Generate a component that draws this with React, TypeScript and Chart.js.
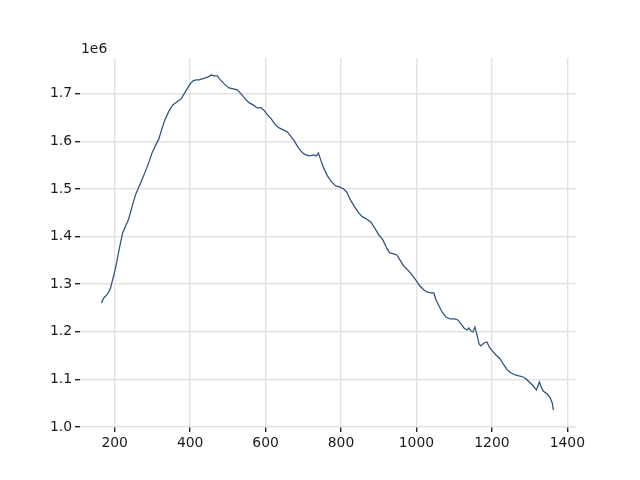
import React, { useEffect, useRef } from "react";
import { Chart, registerables } from "chart.js";

Chart.register(...registerables);

const xValues: number[] = [
  165, 171, 179, 184, 189, 195, 203, 211, 221, 229, 237, 248, 256, 264, 272, 283, 291, 299, 309, 317,
  325, 333, 344, 354, 365, 376, 384, 392, 400, 408, 416, 424, 432, 440, 448, 456, 464, 472, 480, 488,
  496, 503, 514, 525, 535, 546, 557, 567, 578, 589, 597, 605, 615, 626, 636, 647, 658, 666, 676, 687,
  698, 706, 716, 727, 735, 740, 746, 754, 764, 775, 786, 796, 807, 815, 825, 836, 847, 857, 868, 879,
  889, 900, 911, 921, 929, 940, 948, 956, 966, 977, 988, 998, 1009, 1020, 1028, 1038, 1046, 1052, 1060, 1068,
  1078, 1089, 1100, 1110, 1118, 1126, 1134, 1139, 1145, 1150, 1155, 1161, 1166, 1171, 1179, 1187, 1193, 1201, 1211, 1222,
  1230, 1241, 1251, 1262, 1272, 1283, 1291, 1299, 1310, 1318, 1323, 1326, 1331, 1336, 1347, 1355, 1360, 1363,
];

const yValues: number[] = [
  1260500, 1271000, 1277300, 1283600, 1292000, 1310900, 1336200, 1369800, 1407600, 1422300,
  1437000, 1468500, 1489500, 1504200, 1518900, 1540000, 1556800, 1575700, 1592500, 1605100,
  1626100, 1645000, 1663900, 1676500, 1682800, 1689100, 1699600, 1710100, 1720600, 1726900,
  1729000, 1729000, 1731100, 1733200, 1735400, 1739600, 1737500, 1737500, 1729000, 1722700,
  1716400, 1712200, 1710100, 1708000, 1699600, 1689100, 1680700, 1676500, 1670200, 1670200,
  1663900, 1655500, 1647100, 1634500, 1628200, 1624000, 1619800, 1611400, 1600900, 1586200,
  1575700, 1571500, 1569400, 1571500, 1569400, 1575700, 1561000, 1544200, 1527400, 1514700,
  1506300, 1504200, 1500000, 1493700, 1476900, 1462200, 1449600, 1441200, 1437000, 1430700,
  1418100, 1403400, 1392900, 1376100, 1365600, 1363500, 1361400, 1350900, 1338300, 1329900,
  1319400, 1308800, 1296200, 1287800, 1283600, 1281500, 1281500, 1266800, 1254200, 1241600,
  1231100, 1226900, 1226900, 1224800, 1216400, 1208000, 1203800, 1208000, 1201700, 1199600,
  1210100, 1191200, 1174400, 1170200, 1176500, 1178600, 1168100, 1159700, 1151300, 1142900,
  1132400, 1119800, 1113500, 1109300, 1107200, 1105100, 1100800, 1094500, 1086100, 1077700,
  1088200, 1094500, 1084000, 1075600, 1069300, 1060900, 1050400, 1035700,
];

const xTicks: number[] = [200, 400, 600, 800, 1000, 1200, 1400];
const yTicks: number[] = [1000000, 1100000, 1200000, 1300000, 1400000, 1500000, 1600000, 1700000];
const yTickLabels: string[] = ["1.0", "1.1", "1.2", "1.3", "1.4", "1.5", "1.6", "1.7"];
const offsetLabel = "1e6";

const FONT = "'DejaVu Sans', sans-serif";

export default function App() {
  const ref = useRef<HTMLCanvasElement | null>(null);

  useEffect(() => {
    document.body.style.margin = "0";
    const canvas = ref.current;
    if (!canvas) return;

    const offsetPlugin = {
      id: "offsetText",
      afterDraw(chart: any) {
        const ctx = chart.ctx;
        ctx.save();
        ctx.fillStyle = "#1a1a1a";
        ctx.font = `13.9px ${FONT}`;
        ctx.textAlign = "left";
        ctx.textBaseline = "alphabetic";
        ctx.fillText(offsetLabel, chart.chartArea.left + 1, 53);
        ctx.restore();
      },
    };

    const chart = new Chart(canvas, {
      type: "line",
      data: {
        datasets: [
          {
            data: xValues.map((x, i) => ({ x, y: yValues[i] })),
            borderColor: "#30507a",
            borderWidth: 1.25,
            pointRadius: 0,
            tension: 0,
            fill: false,
          },
        ],
      },
      options: {
        responsive: false,
        animation: false,
        layout: { padding: { left: 0, right: 64, top: 58, bottom: 0 } },
        plugins: {
          legend: { display: false },
          tooltip: { enabled: false },
        },
        scales: {
          x: {
            type: "linear",
            min: 108,
            max: 1423,
            afterBuildTicks: (scale: any) => {
              scale.ticks = xTicks.map((v) => ({ value: v }));
            },
            afterFit: (scale: any) => {
              scale.height = 53;
            },
            border: { display: false },
            grid: {
              color: "#e2e2e2",
              lineWidth: 1.4,
              tickColor: "#222222",
              tickLength: 5,
            },
            ticks: {
              color: "#1a1a1a",
              font: { family: FONT, size: 13.9 },
              padding: 3,
              maxRotation: 0,
              callback: (v: any) => String(v),
            },
          },
          y: {
            type: "linear",
            min: 1000000,
            max: 1775000,
            afterBuildTicks: (scale: any) => {
              scale.ticks = yTicks.map((v) => ({ value: v }));
            },
            afterFit: (scale: any) => {
              scale.width = 80;
            },
            border: { display: false },
            grid: {
              color: "#e2e2e2",
              lineWidth: 1.4,
              tickColor: "#222222",
              tickLength: 5,
            },
            ticks: {
              color: "#1a1a1a",
              font: { family: FONT, size: 13.9 },
              padding: 3,
              callback: (v: any) => {
                const i = yTicks.indexOf(Number(v));
                return i >= 0 ? yTickLabels[i] : "";
              },
            },
          },
        },
      },
      plugins: [offsetPlugin],
    });

    return () => chart.destroy();
  }, []);

  return <canvas ref={ref} width={640} height={480} style={{ display: "block" }} />;
}
